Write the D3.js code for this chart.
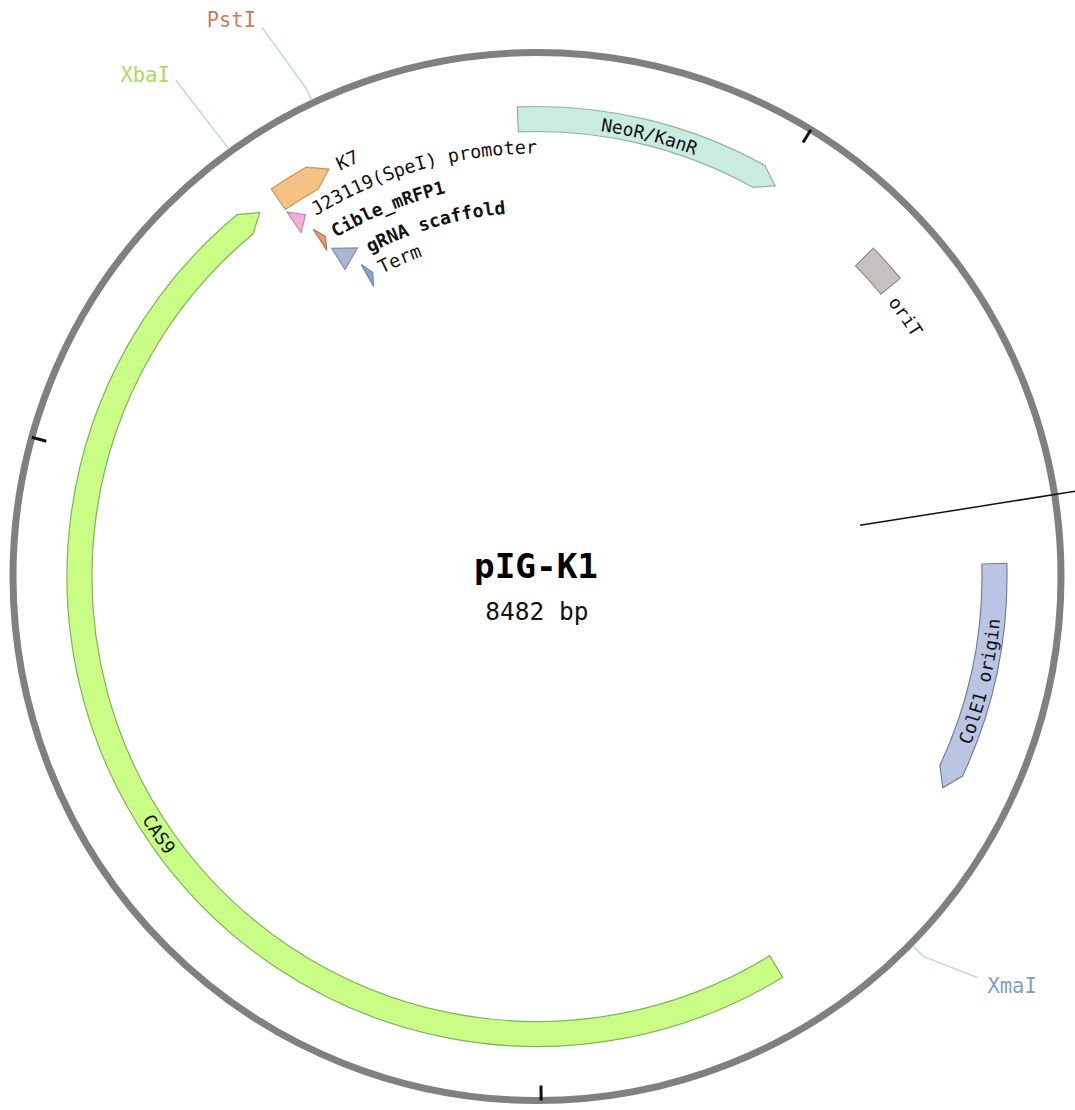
<!DOCTYPE html>
<html>
<head>
<meta charset="utf-8">
<title>pIG-K1</title>
<script src="https://cdn.jsdelivr.net/npm/d3@7"></script>
<style>
    html, body { margin: 0; padding: 0; background: #fff; overflow: hidden; }
    svg { display: block; }
    text { font-family: "DejaVu Sans Mono", monospace; }
</style>
</head>
<body>
<div id="map"></div>
<script>
// Plasmid data (all positions in bp)
const plasmidName = "pIG-K1"
const plasmidLength = 8482
const tickSites = [2322, 4816, 7316]

const featureNames = ["CAS9", "K7", "J23119(SpeI) promoter", "Cible_mRFP1", "gRNA scaffold", "Term", "NeoR/KanR", "oriT", "ColE1 origin"]
const featureStart = [1590, 5762, 5762, 5801, 5819, 5881, 6517, 7650, 174]
const featureEnd = [5695, 5936, 5805, 5822, 5899, 5905, 7313, 7766, 860]

const enzymeNames = ["XbaI", "PstI", "XmaI"]
const enzymeSites = [5730, 5977, 1261]

// Layout and colours
const width = 1075
const height = 1110
const cx = 537
const cy = 576.5
const ringRadius = 524
const originDeg = 81
const laneOuter = [470, 442, 413, 387, 358]
const laneWidth = 25
const headBp = 56
const shortBp = 100

const featureStyle = [
    {lane: 0, fill: "#c9fd86", stroke: "#7fb35a", arrow: true},
    {lane: 0, fill: "#f5c283", stroke: "#c9975e", arrow: true},
    {lane: 1, fill: "#f3aeda", stroke: "#b98aa8", arrow: true},
    {lane: 2, fill: "#e29a70", stroke: "#b87a58", arrow: true},
    {lane: 3, fill: "#aab5d5", stroke: "#8490b0", arrow: true},
    {lane: 4, fill: "#86a6cf", stroke: "#6f8cb2", arrow: true},
    {lane: 0, fill: "#c9ebe0", stroke: "#8db3a8", arrow: true},
    {lane: 0, fill: "#c6c1c0", stroke: "#918c8a", arrow: false},
    {lane: 0, fill: "#b9c5e3", stroke: "#737f9e", arrow: true}
]

// where each feature label sits: angle from top, baseline radius, reading direction
const labelStyle = [
    {deg: 238.4, r: 464, ccw: true, weight: "normal", size: 18},
    {deg: 334.1, r: 451, ccw: false, weight: "normal", size: 18.4},
    {deg: 328.5, r: 423, ccw: false, weight: "normal", size: 18.4},
    {deg: 329.3, r: 394, ccw: false, weight: "bold", size: 18},
    {deg: 332.7, r: 364, ccw: false, weight: "bold", size: 18.2},
    {deg: 332.9, r: 340, ccw: false, weight: "normal", size: 18.4},
    {deg: 8.1, r: 450, ccw: false, weight: "normal", size: 18},
    {deg: 52, r: 445, ccw: false, weight: "normal", size: 18},
    {deg: 111.3, r: 465, ccw: true, weight: "normal", size: 18}
]

const enzymeStyle = [
    {color: "#a8dd62", kink: 532, end: [-50, -65], label: [-6, 2], anchor: "end"},
    {color: "#c97d5e", kink: 540, end: [-44, -61], label: [-6, 0], anchor: "end"},
    {color: "#7f9dcc", kink: 542, end: [54, 21], label: [10, 15], anchor: "start"}
]

const angle = d3.scaleLinear()
    .domain([0, plasmidLength])
    .range([originDeg, originDeg + 360])

// clockwise from top, degrees -> svg radians
const rad = deg => (deg - 90) * Math.PI / 180
const polar = (deg, r) => [cx + r * Math.cos(rad(deg)), cy + r * Math.sin(rad(deg))]

const svg = d3.select("#map")
    .append("svg")
    .attr("width", width)
    .attr("height", height)

const defs = svg.append("defs")

// Draw feature outline
function featurePath(start, end, lane, arrow) {
    const a0 = angle(start)
    const a1 = angle(end)
    const outer = laneOuter[lane]
    const inner = outer - laneWidth
    const mid = (outer + inner) / 2
    const p = d3.path()
    // short features are all head
    let base = a1
    if (arrow) base = end - start < shortBp ? a0 : a1 - (angle(headBp) - originDeg)
    p.moveTo(...polar(a0, outer))
    if (base > a0) p.arc(cx, cy, outer, rad(a0), rad(base))
    if (arrow) p.lineTo(...polar(a1, mid))
    p.lineTo(...polar(base, inner))
    if (base > a0) p.arc(cx, cy, inner, rad(base), rad(a0), true)
    p.closePath()
    return p.toString()
}

// backbone
svg.append("circle")
    .attr("cx", cx)
    .attr("cy", cy)
    .attr("r", ringRadius)
    .attr("fill", "none")
    .attr("stroke", "#808080")
    .attr("stroke-width", 7)

// ticks
svg.selectAll("line.tick")
    .data(tickSites)
    .enter()
    .append("line")
    .attr("class", "tick")
    .attr("x1", d => polar(angle(d), ringRadius)[0])
    .attr("y1", d => polar(angle(d), ringRadius)[1])
    .attr("x2", d => polar(angle(d), ringRadius - 15)[0])
    .attr("y2", d => polar(angle(d), ringRadius - 15)[1])
    .attr("stroke", "#111")
    .attr("stroke-width", 3)

// origin line
svg.append("line")
    .attr("x1", polar(angle(0), 327)[0])
    .attr("y1", polar(angle(0), 327)[1])
    .attr("x2", polar(angle(0), 560)[0])
    .attr("y2", polar(angle(0), 560)[1])
    .attr("stroke", "#111")
    .attr("stroke-width", 1.5)

// features
svg.selectAll("path.feature")
    .data(featureNames)
    .enter()
    .append("path")
    .attr("class", "feature")
    .attr("d", (d, i) => featurePath(featureStart[i], featureEnd[i], featureStyle[i].lane, featureStyle[i].arrow))
    .attr("fill", (d, i) => featureStyle[i].fill)
    .attr("stroke", (d, i) => featureStyle[i].stroke)
    .attr("stroke-width", 1.2)

// feature labels follow the circle
featureNames.forEach((name, i) => {
    const s = labelStyle[i]
    const sweep = s.ccw ? -60 : 60
    const p = d3.path()
    p.moveTo(...polar(s.deg, s.r))
    p.arc(cx, cy, s.r, rad(s.deg), rad(s.deg + sweep), s.ccw)
    defs.append("path")
        .attr("id", "label-" + i)
        .attr("d", p.toString())
    svg.append("text")
        .attr("font-size", s.size)
        .attr("font-weight", s.weight)
        .attr("fill", "#111")
        .append("textPath")
        .attr("href", "#label-" + i)
        .text(name)
})

// enzyme sites
enzymeNames.forEach((name, i) => {
    const s = enzymeStyle[i]
    const site = angle(enzymeSites[i])
    const knee = polar(site, s.kink)
    const tip = [knee[0] + s.end[0], knee[1] + s.end[1]]
    svg.append("path")
        .attr("d", d3.line()([polar(site, ringRadius + 3), knee, tip]))
        .attr("fill", "none")
        .attr("stroke", "#bdd2d8")
        .attr("stroke-width", 1.3)
    svg.append("text")
        .attr("x", tip[0] + s.label[0])
        .attr("y", tip[1] + s.label[1])
        .attr("text-anchor", s.anchor)
        .attr("font-size", 20.5)
        .attr("fill", s.color)
        .text(name)
})

// centre title
svg.append("text")
    .attr("x", cx - 1)
    .attr("y", 578)
    .attr("text-anchor", "middle")
    .attr("font-size", 34.3)
    .attr("font-weight", "bold")
    .attr("fill", "#000")
    .text(plasmidName)

svg.append("text")
    .attr("x", cx)
    .attr("y", 620)
    .attr("text-anchor", "middle")
    .attr("font-size", 24.5)
    .attr("fill", "#111")
    .text(`${plasmidLength} bp`)
</script>
</body>
</html>
